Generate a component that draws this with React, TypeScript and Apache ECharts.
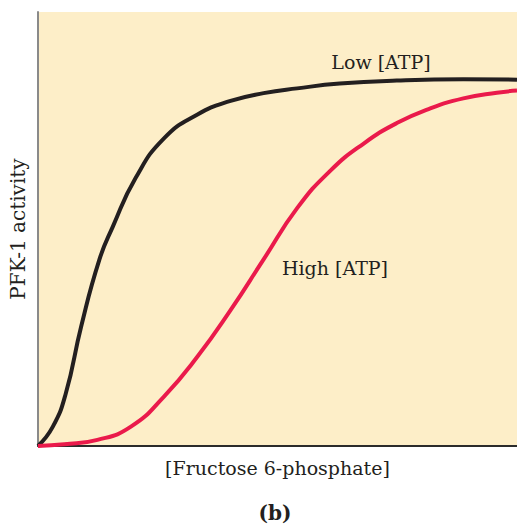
import React, { useEffect, useRef } from "react";
import * as echarts from "echarts";

const lowATP: [number, number][] = [
  [0, 0], [3.1, 4.45], [5.8, 12.1], [9.0, 27.5], [12.8, 42.9], [15.6, 50.5],
  [20.4, 61.8], [26.3, 70.9], [33.3, 76.4], [40.2, 79.5], [47.1, 81.3],
  [54.1, 82.4], [63.0, 83.5], [74.9, 84.2], [88.8, 84.5], [100, 84.4],
];

const highATP: [number, number][] = [
  [0, 0], [5.5, 0.4], [12.4, 1.4], [19.4, 4.45], [26.3, 11.4], [33.3, 20.6],
  [40.2, 31.3], [47.1, 43.0], [54.1, 54.8], [61.0, 63.4], [68.0, 69.7],
  [74.9, 74.4], [81.9, 77.8], [88.8, 80.1], [95.8, 81.4], [100, 81.9],
];

const seriesNames = ["Low [ATP]", "High [ATP]"];
const xTitle = "[Fructose 6-phosphate]";
const yTitle = "PFK-1 activity";
const panelLabel = "(b)";

const FONT = "DejaVu Serif";

export default function App() {
  const ref = useRef<HTMLDivElement>(null);
  useEffect(() => {
    document.body.style.margin = "0";
    const chart = echarts.init(ref.current!, null, { renderer: "svg" });
    chart.setOption({
      animation: false,
      backgroundColor: "#ffffff",
      grid: { left: 37, top: 12, right: 0, bottom: 78, show: true, backgroundColor: "#FDEEC8", borderWidth: 0 },
      xAxis: {
        type: "value", min: 0, max: 100,
        axisLine: { show: true, onZero: false, lineStyle: { color: "#2b2b2b", width: 2 } },
        axisTick: { show: false }, axisLabel: { show: false }, splitLine: { show: false },
        name: xTitle, nameLocation: "middle", nameGap: 12,
        nameTextStyle: { fontFamily: FONT, fontSize: 19, color: "#231F20", verticalAlign: "top" },
      },
      yAxis: {
        type: "value", min: 0, max: 100,
        axisLine: { show: true, lineStyle: { color: "#8a8a8a", width: 2 } },
        axisTick: { show: false }, axisLabel: { show: false }, splitLine: { show: false },
        name: yTitle, nameLocation: "middle", nameGap: 10,
        nameTextStyle: { fontFamily: FONT, fontSize: 20, color: "#231F20" },
      },
      series: [
        {
          name: seriesNames[0], type: "line", data: lowATP, smooth: 0.5, showSymbol: false,
          lineStyle: { color: "#231F20", width: 4 },
        },
        {
          name: seriesNames[1], type: "line", data: highATP, smooth: 0.5, showSymbol: false,
          lineStyle: { color: "#EA1A4B", width: 4 },
        },
      ],
      graphic: [
        { type: "text", x: 381, y: 62, style: { text: seriesNames[0], font: `19px '${FONT}'`, fill: "#231F20", align: "center", verticalAlign: "middle" } },
        { type: "text", x: 335, y: 268, style: { text: seriesNames[1], font: `19px '${FONT}'`, fill: "#231F20", align: "center", verticalAlign: "middle" } },
        { type: "text", x: 275, y: 513, style: { text: panelLabel, font: `bold 20px '${FONT}'`, fill: "#231F20", align: "center", verticalAlign: "middle" } },
      ],
    });
    return () => chart.dispose();
  }, []);
  return <div ref={ref} style={{ width: 517, height: 524 }} />;
}
